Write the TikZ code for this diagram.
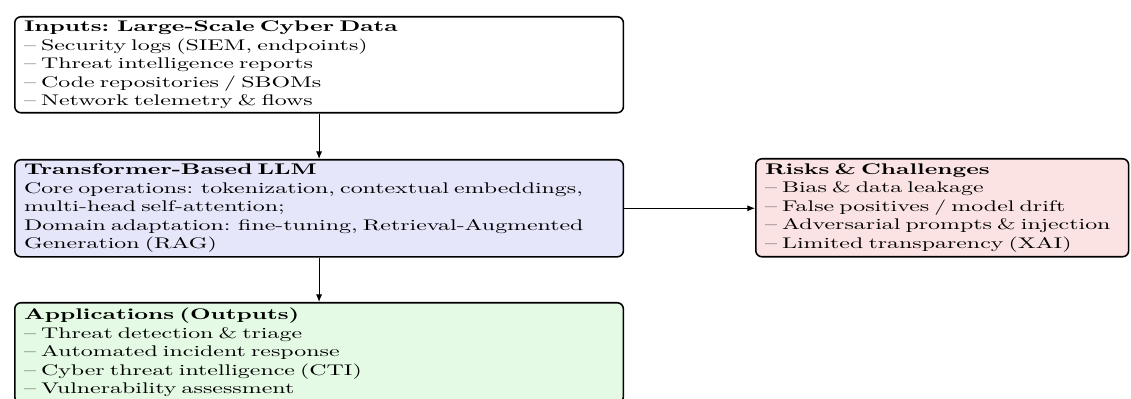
\documentclass[tikz,border=0pt]{standalone}
\usepackage{fontspec}
\setmainfont{lmroman10}[Extension=.otf, UprightFont=*-regular, BoldFont=*-bold, ItalicFont=*-italic, BoldItalicFont=*-bolditalic, FakeStretch=1.55]
\usetikzlibrary{arrows.meta}
\definecolor{llmfill}{HTML}{E6E6FB}
\definecolor{appfill}{HTML}{E4FAE4}
\definecolor{riskfill}{HTML}{FCE3E3}
\begin{document}
\begin{tikzpicture}[x=0.649pt, y=-0.649pt,
  box/.style={draw, line width=1pt, rounded corners=4pt, anchor=north west,
    align=left, inner xsep=6pt, inner ysep=0pt, font=\fontsize{10}{12}\selectfont},
  conn/.style={-{Latex[length=5pt,width=4pt]}, line width=0.6pt}]
\fill[white] (0,0) rectangle (1131,399);
\useasboundingbox (0,0) rectangle (1131,399);
\node[box, fill=white, text width=383pt, minimum height=62.3pt] (inp) at (14,16)
  {\textbf{Inputs: Large-Scale Cyber Data}\\
   -- Security logs (SIEM, endpoints)\\
   -- Threat intelligence reports\\
   -- Code repositories / SBOMs\\
   -- Network telemetry \& flows};
\node[box, fill=llmfill, text width=383pt, minimum height=63pt] (llm) at (14,159)
  {\textbf{Transformer-Based LLM}\\
   Core operations: tokenization, contextual embeddings,\\
   multi-head self-attention;\\
   Domain adaptation: fine-tuning, Retrieval-Augmented\\
   Generation (RAG)};
\node[box, fill=riskfill, text width=230pt, minimum height=63.6pt] (risk) at (755,158)
  {\textbf{Risks \& Challenges}\\
   -- Bias \& data leakage\\
   -- False positives / model drift\\
   -- Adversarial prompts \& injection\\
   -- Limited transparency (XAI)};
\node[box, fill=appfill, text width=383pt, minimum height=64.9pt] (app) at (14,302)
  {\textbf{Applications (Outputs)}\\
   -- Threat detection \& triage\\
   -- Automated incident response\\
   -- Cyber threat intelligence (CTI)\\
   -- Vulnerability assessment};
\draw[conn] (inp.south) -- (llm.north);
\draw[conn] (llm.south) -- (app.north);
\draw[conn] (llm.east) -- (llm.east -| risk.west);
\end{tikzpicture}
\end{document}
